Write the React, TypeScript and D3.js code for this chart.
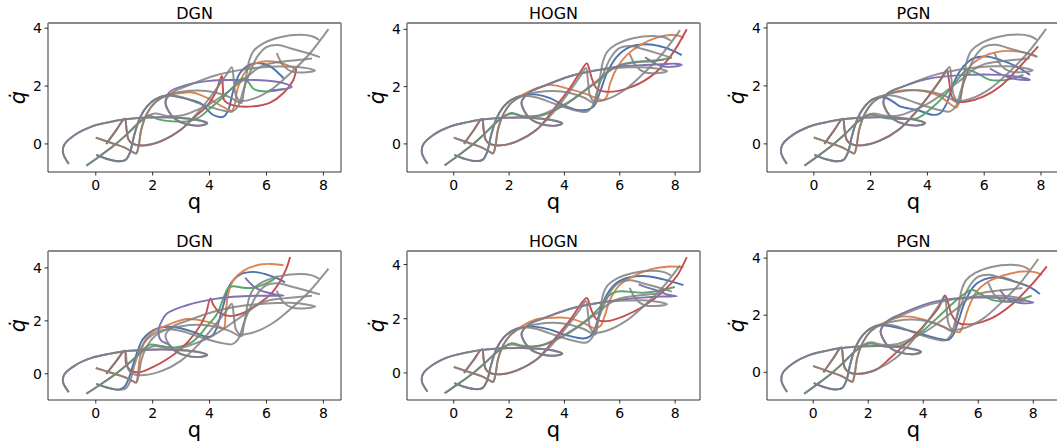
import React from "react";
import * as d3 from "d3";

type Pt = [number, number];

const W = 1057;
const H = 444;

const TITLES = ["DGN", "HOGN", "PGN", "DGN", "HOGN", "PGN"];
const X_TICKS = [0, 2, 4, 6, 8];
const Y_TICKS = [0, 2, 4];
const X_DOMAINS: Pt[] = [[-1.68, 8.62], [-1.69, 8.9], [-1.65, 8.67], [-1.68, 8.62], [-1.69, 8.9], [-1.68, 8.97]];
const Y_DOMAINS: Pt[] = [[-0.97, 4.18], [-0.98, 4.22], [-0.97, 4.17], [-0.99, 4.64], [-1.0, 4.5], [-0.97, 4.25]];

// ground-truth trajectories (grey), identical in all panels
const TRUE_BLUE: Pt[] = [[0.02,-0.38],[0.4,-0.52],[0.8,-0.6],[1.05,-0.55],[1.2,-0.3],[1.35,0.3],[1.55,0.9],[1.8,1.3],[2.1,1.55],[2.5,1.68],[3.0,1.62],[3.5,1.45],[4.0,1.28],[4.5,1.15],[4.8,1.12],[5.0,1.3],[5.2,1.9],[5.45,2.55],[5.7,3.05],[6.0,3.35],[6.4,3.42],[6.83,3.31],[7.4,3.15],[7.88,3.0]];
const TRUE_ORANGE: Pt[] = [[0,0.22],[0.5,0.05],[1.0,-0.12],[1.3,-0.28],[1.42,-0.33],[1.5,-0.1],[1.6,0.5],[1.8,1.05],[2.1,1.45],[2.5,1.68],[3.0,1.8],[3.6,1.85],[4.2,1.78],[4.7,1.62],[5.0,1.45],[5.12,1.42],[5.2,1.8],[5.3,2.4],[5.4,2.9],[5.55,3.22],[5.89,3.48],[6.48,3.69],[7.18,3.77],[7.6,3.72],[7.85,3.6]];
const TRUE_GREEN: Pt[] = [[-0.33,-0.75],[0.1,-0.45],[0.67,-0.03],[1.13,0.37],[1.5,0.72],[1.85,0.98],[2.1,1.05],[2.5,0.97],[3.0,0.98],[3.5,1.15],[4.0,1.38],[4.5,1.7],[4.9,2.0],[5.3,2.3],[5.6,2.55],[6.0,2.75],[6.6,2.85],[7.1,2.9],[7.6,2.95]];
const TRUE_RED: Pt[] = [[0.37,0.0],[0.7,0.45],[1.02,0.87],[1.08,0.5],[1.15,0.15],[1.3,0.0],[1.7,-0.05],[2.3,0.1],[3.0,0.5],[3.6,1.1],[4.2,1.85],[4.6,2.4],[4.78,2.65],[4.85,2.2],[4.92,1.7],[5.05,1.5],[5.5,1.55],[6.2,1.9],[6.9,2.5],[7.5,3.1],[8.18,3.97]];
const TRUE_PURPLE: Pt[] = [[-0.95,-0.69],[-1.15,-0.32],[-1.11,-0.03],[-0.74,0.31],[-0.15,0.6],[0.5,0.76],[1.02,0.85],[1.84,0.91],[2.5,0.92],[3.2,0.88],[3.7,0.8],[3.92,0.72],[3.7,0.64],[3.2,0.68],[2.8,0.85],[2.58,1.1],[2.45,1.45],[2.7,1.78],[3.2,2.0],[4.26,2.38],[5.1,2.56],[6.0,2.66],[6.8,2.68],[7.4,2.62],[7.71,2.54],[7.3,2.47],[6.9,2.5],[6.6,2.7],[6.36,3.14]];

// predicted tails (after the shared start) per panel
const DGN1_BLUE: Pt[] = [[3.0,1.6],[3.67,1.41],[4.13,1.0],[4.49,0.94],[4.66,1.18],[4.84,1.87],[5.07,2.45],[5.42,2.74],[5.77,2.79],[6.13,2.68],[6.48,2.39],[6.6,2.27]];
const DGN1_ORANGE: Pt[] = [[3.0,1.76],[3.4,1.78],[3.9,1.6],[4.49,1.27],[4.78,1.15],[4.88,1.35],[4.97,1.85],[5.19,2.39],[5.48,2.73],[5.89,2.85],[6.36,2.83],[6.83,2.68],[7.0,2.6]];
const DGN1_GREEN: Pt[] = [[2.2,0.85],[2.7,0.78],[3.2,0.78],[3.6,0.9],[4.02,1.23],[4.49,1.63],[4.84,1.98],[5.19,2.27],[5.36,2.14],[5.54,1.91],[5.77,1.83],[6.24,1.83],[6.6,1.9]];
const DGN1_RED: Pt[] = [[3.5,0.95],[3.9,1.3],[4.2,1.75],[4.43,2.35],[4.47,1.9],[4.52,1.5],[4.84,1.33],[5.54,1.3],[6.13,1.43],[6.59,1.75],[6.94,2.2],[7.05,2.6]];
const DGN1_PURPLE: Pt[] = [[2.6,1.8],[3.2,2.04],[4.0,2.18],[4.84,2.21],[5.8,2.2],[6.6,2.1],[6.89,1.96],[6.5,1.88],[6.1,1.86]];

const HOGN1_BLUE: Pt[] = [[2.5,1.7],[3.0,1.72],[3.48,1.6],[3.96,1.36],[4.45,1.19],[4.81,1.19],[5.05,1.3],[5.29,1.82],[5.53,2.46],[5.89,3.04],[6.37,3.39],[6.98,3.48],[7.46,3.41],[7.94,3.25],[8.24,3.1]];
const HOGN1_ORANGE: Pt[] = [[2.5,1.72],[3.0,1.95],[3.48,2.06],[4.08,1.94],[4.69,1.77],[5.17,1.59],[5.41,1.53],[5.53,1.65],[5.65,2.11],[5.89,2.64],[6.25,3.1],[6.74,3.45],[7.34,3.71],[7.82,3.8],[8.18,3.76],[8.3,3.68]];
const HOGN1_GREEN: Pt[] = [[2.1,1.08],[2.5,0.97],[3.2,1.0],[4.0,1.35],[4.8,1.9],[5.3,2.25],[5.59,2.52],[6.01,2.75],[6.62,2.87],[7.2,2.88],[7.88,3.02]];
const HOGN1_RED: Pt[] = [[3.6,1.2],[4.2,1.95],[4.6,2.55],[4.81,2.81],[4.9,2.6],[4.99,2.29],[5.17,1.93],[5.53,1.82],[6.25,1.93],[7.1,2.34],[7.82,3.04],[8.42,4.0]];
const HOGN1_PURPLE: Pt[] = [[6.0,2.7],[6.8,2.75],[7.5,2.78],[8.0,2.8],[8.24,2.76],[8.0,2.7],[7.5,2.72],[7.2,2.85],[6.92,3.02]];

const PGN1_BLUE: Pt[] = [[2.5,1.6],[2.8,1.45],[3.04,1.29],[3.63,1.17],[4.21,1.0],[4.45,1.06],[4.68,1.4],[4.92,2.09],[5.27,2.67],[5.62,2.95],[6.09,3.01],[6.56,2.9],[7.14,2.67],[7.61,2.38]];
const PGN1_ORANGE: Pt[] = [[2.69,1.75],[3.28,1.86],[3.98,1.8],[4.45,1.63],[4.92,1.29],[5.03,1.26],[5.15,1.52],[5.27,2.09],[5.5,2.67],[5.97,3.01],[6.56,3.19],[7.14,3.19],[7.73,3.07],[7.85,3.01]];
const PGN1_GREEN: Pt[] = [[1.98,1.0],[2.57,0.88],[3.1,0.86],[3.63,0.88],[4.21,1.29],[4.68,1.75],[5.15,2.32],[5.39,2.55],[5.74,2.44],[6.2,2.21],[6.79,2.21],[7.38,2.38]];
const PGN1_RED: Pt[] = [[3.0,0.5],[3.5,1.0],[4.0,1.6],[4.45,2.2],[4.68,2.55],[4.76,2.2],[4.86,1.63],[5.04,1.46],[5.39,1.46],[5.97,1.63],[6.56,1.98],[7.26,2.67],[7.9,3.36]];
const PGN1_PURPLE: Pt[] = [[2.6,1.75],[3.2,2.0],[3.98,2.24],[5.39,2.38],[6.56,2.38],[7.3,2.3],[7.61,2.21],[7.2,2.22],[6.7,2.35],[6.2,2.6]];

const DGN2_BLUE: Pt[] = [[1.0,-0.5],[1.15,-0.2],[1.3,0.3],[1.45,0.8],[1.67,1.33],[2.14,1.71],[2.73,1.77],[3.43,1.58],[3.9,1.39],[4.1,1.45],[4.25,1.73],[4.49,2.62],[4.72,3.37],[5.07,3.75],[5.54,3.85],[6.01,3.75],[6.48,3.56],[6.65,3.45]];
const DGN2_ORANGE: Pt[] = [[1.48,0.0],[1.55,0.6],[1.75,1.3],[2.1,1.65],[2.49,1.83],[3.2,2.07],[3.9,1.97],[4.25,1.85],[4.5,1.72],[4.56,2.2],[4.65,3.0],[4.84,3.54],[5.2,3.9],[5.78,4.13],[6.2,4.15],[6.6,4.1]];
const DGN2_GREEN: Pt[] = [[1.7,0.95],[1.9,1.1],[2.3,1.05],[2.8,1.0],[3.3,1.15],[3.6,1.4],[3.9,1.79],[4.25,2.24],[4.49,2.87],[4.66,3.25],[4.84,3.31],[5.19,3.25],[5.54,3.25],[5.89,3.37],[6.24,3.56],[6.4,3.7]];
const DGN2_RED: Pt[] = [[1.06,0.4],[1.2,0.15],[1.5,0.05],[2.0,0.25],[2.5,0.55],[3.0,0.95],[3.5,1.55],[3.85,2.2],[4.03,2.85],[4.13,2.61],[4.37,2.3],[4.72,2.18],[5.19,2.3],[5.66,2.61],[6.13,2.99],[6.48,3.5],[6.71,4.0],[6.83,4.41]];
const DGN2_PURPLE: Pt[] = [[2.3,1.25],[2.2,1.6],[2.3,1.95],[2.49,2.27],[3.2,2.59],[4.14,2.82],[4.84,2.91],[5.7,2.95],[6.6,2.95],[6.3,3.0],[5.8,3.15],[5.5,3.35],[5.25,3.63]];

const HOGN2_BLUE: Pt[] = [[2.5,1.7],[3.0,1.7],[3.48,1.6],[4.08,1.39],[4.69,1.27],[4.93,1.35],[5.11,1.66],[5.29,2.28],[5.53,2.89],[5.89,3.33],[6.37,3.53],[6.98,3.57],[7.58,3.45],[8.3,3.24]];
const HOGN2_ORANGE: Pt[] = [[2.5,1.75],[3.0,1.98],[3.48,2.03],[4.08,2.03],[4.69,1.85],[5.05,1.66],[5.29,1.72],[5.47,2.15],[5.65,2.71],[6.01,3.26],[6.5,3.57],[7.1,3.82],[7.7,3.92],[8.3,3.91]];
const HOGN2_GREEN: Pt[] = [[2.1,1.1],[2.5,1.0],[3.2,1.02],[4.0,1.4],[4.8,1.95],[5.3,2.45],[5.6,2.85],[5.89,3.0],[6.3,3.0],[6.86,2.96],[7.5,3.05],[7.99,3.17]];
const HOGN2_RED: Pt[] = [[3.6,1.2],[4.2,1.95],[4.6,2.55],[4.81,2.77],[4.9,2.55],[4.99,2.28],[5.17,1.97],[5.53,1.91],[6.13,2.09],[6.86,2.46],[7.58,3.02],[8.06,3.57],[8.42,4.27]];
const HOGN2_PURPLE: Pt[] = [[6.0,2.7],[6.8,2.78],[7.5,2.82],[8.06,2.83],[7.7,2.9],[7.34,3.05],[7.0,3.15],[6.68,3.27]];

const PGN2_BLUE: Pt[] = [[2.5,1.65],[3.33,1.5],[3.9,1.35],[4.55,1.18],[4.91,1.14],[5.09,1.32],[5.27,1.78],[5.52,2.48],[5.88,3.06],[6.37,3.3],[6.85,3.32],[7.33,3.18],[7.94,2.95],[8.24,2.74]];
const PGN2_ORANGE: Pt[] = [[2.6,1.75],[3.0,1.9],[3.33,1.96],[4.06,1.84],[4.67,1.61],[5.15,1.43],[5.33,1.41],[5.45,1.67],[5.64,2.25],[5.94,2.83],[6.37,3.18],[6.97,3.41],[7.58,3.53],[8.06,3.51],[8.31,3.41]];
const PGN2_GREEN: Pt[] = [[2.0,1.0],[2.6,0.9],[3.2,0.95],[3.8,1.3],[4.5,1.9],[5.15,2.48],[5.5,2.75],[5.76,2.89],[6.12,2.72],[6.49,2.54],[6.97,2.48],[7.5,2.55],[7.94,2.69]];
const PGN2_RED: Pt[] = [[2.8,0.5],[3.33,0.97],[3.94,1.55],[4.55,2.25],[4.79,2.69],[4.91,2.42],[5.03,2.02],[5.27,1.73],[5.76,1.69],[6.49,1.9],[7.21,2.37],[7.94,3.07],[8.49,3.71]];
const PGN2_PURPLE: Pt[] = [[2.7,1.8],[3.2,2.05],[4.3,2.45],[5.1,2.58],[6.0,2.62],[7.0,2.6],[7.6,2.52],[8.0,2.45],[7.6,2.42],[7.1,2.55],[6.79,2.89]];

const COLORS = { blue: "#4c72b0", orange: "#dd8452", green: "#55a868", red: "#c44e52", purple: "#8172b3" };
const TRUTHS: Pt[][] = [TRUE_BLUE, TRUE_ORANGE, TRUE_GREEN, TRUE_RED, TRUE_PURPLE];
const SERIES_COLORS = [COLORS.blue, COLORS.orange, COLORS.green, COLORS.red, COLORS.purple];

// number of truth points shared before each prediction diverges: [blue, orange, green, red, purple]
const KEEP = [
  [10, 10, 6, 9, 17],
  [9, 9, 6, 9, 21],
  [9, 9, 5, 8, 17],
  [3, 5, 5, 3, 16],
  [9, 9, 6, 9, 21],
  [9, 9, 5, 8, 17],
];
const TAILS: Pt[][][] = [
  [DGN1_BLUE, DGN1_ORANGE, DGN1_GREEN, DGN1_RED, DGN1_PURPLE],
  [HOGN1_BLUE, HOGN1_ORANGE, HOGN1_GREEN, HOGN1_RED, HOGN1_PURPLE],
  [PGN1_BLUE, PGN1_ORANGE, PGN1_GREEN, PGN1_RED, PGN1_PURPLE],
  [DGN2_BLUE, DGN2_ORANGE, DGN2_GREEN, DGN2_RED, DGN2_PURPLE],
  [HOGN2_BLUE, HOGN2_ORANGE, HOGN2_GREEN, HOGN2_RED, HOGN2_PURPLE],
  [PGN2_BLUE, PGN2_ORANGE, PGN2_GREEN, PGN2_RED, PGN2_PURPLE],
];

const COL_LEFT = [48, 407, 767];
const ROW_TOP = [23, 251];
const AX_W = 293;
const AX_H = 149;
const FONT = "'DejaVu Sans', sans-serif";

function Panel({ idx }: { idx: number }) {
  const left = COL_LEFT[idx % 3];
  const top = ROW_TOP[Math.floor(idx / 3)];
  const x = d3.scaleLinear().domain(X_DOMAINS[idx]).range([left, left + AX_W]);
  const y = d3.scaleLinear().domain(Y_DOMAINS[idx]).range([top + AX_H, top]);
  const line = d3
    .line<Pt>()
    .x((d) => x(d[0]))
    .y((d) => y(d[1]))
    .curve(d3.curveCatmullRom.alpha(0.5));
  const clipId = `clip${idx}`;
  const bottom = top + AX_H;
  const preds = TRUTHS.map((t, i) => t.slice(0, KEEP[idx][i]).concat(TAILS[idx][i]));
  return (
    <g>
      <defs>
        <clipPath id={clipId}>
          <rect x={left} y={top} width={AX_W} height={AX_H} />
        </clipPath>
      </defs>
      <g clipPath={`url(#${clipId})`}>
        {preds.map((p, i) => (
          <path key={`p${i}`} d={line(p) || ""} fill="none" stroke={SERIES_COLORS[i]} strokeWidth={1.9} />
        ))}
        {TRUTHS.map((t, i) => (
          <path key={`t${i}`} d={line(t) || ""} fill="none" stroke="#808080" strokeOpacity={0.85} strokeWidth={2.0} />
        ))}
      </g>
      <line x1={left} x2={left} y1={top} y2={bottom} stroke="#000" strokeWidth={0.8} />
      <line x1={left + AX_W} x2={left + AX_W} y1={top} y2={bottom} stroke="#000" strokeWidth={0.8} />
      <line x1={left} x2={left + AX_W} y1={bottom} y2={bottom} stroke="#000" strokeWidth={0.8} />
      <line x1={left} x2={left + AX_W} y1={top} y2={top} stroke="#8a8a8a" strokeWidth={1.8} />
      {X_TICKS.map((t) => (
        <g key={`xt${t}`}>
          <line x1={x(t)} x2={x(t)} y1={bottom} y2={bottom + 3.5} stroke="#000" strokeWidth={0.8} />
          <text x={x(t)} y={bottom + 18} textAnchor="middle" fontSize={14} fontFamily={FONT} fill="#000">
            {t}
          </text>
        </g>
      ))}
      {Y_TICKS.map((t) => (
        <g key={`yt${t}`}>
          <line x1={left - 3.5} x2={left} y1={y(t)} y2={y(t)} stroke="#000" strokeWidth={0.8} />
          <text x={left - 6} y={y(t) + 5} textAnchor="end" fontSize={14} fontFamily={FONT} fill="#000">
            {t}
          </text>
        </g>
      ))}
      <text x={left + AX_W / 2} y={top - 4} textAnchor="middle" fontSize={16} fontFamily={FONT} fill="#000">
        {TITLES[idx]}
      </text>
      <text x={left + AX_W / 2} y={bottom + 37} textAnchor="middle" fontSize={21} fontFamily={FONT} fill="#000">
        q
      </text>
      <text
        transform={`translate(${left - 23},${top + AX_H / 2}) rotate(-90)`}
        textAnchor="middle"
        fontSize={21}
        fontStyle="italic"
        fontFamily={FONT}
        fill="#000"
      >
        {"q\u0307"}
      </text>
    </g>
  );
}

export default function App() {
  return (
    <svg
      width={W}
      height={H}
      viewBox={`0 0 ${W} ${H}`}
      style={{ position: "absolute", left: 0, top: 0, background: "#fff" }}
    >
      <rect x={0} y={0} width={W} height={H} fill="#fff" />
      {[0, 1, 2, 3, 4, 5].map((i) => (
        <Panel key={i} idx={i} />
      ))}
    </svg>
  );
}
